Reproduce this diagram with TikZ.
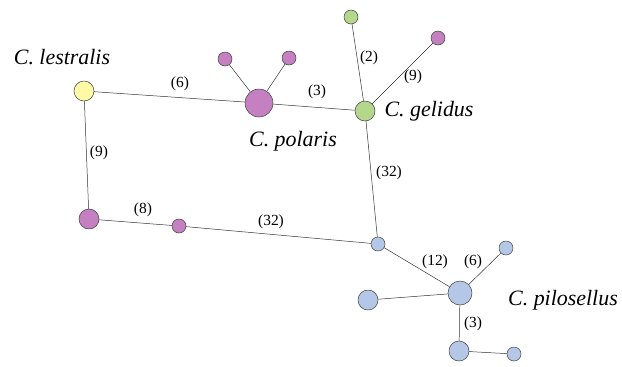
\documentclass[tikz,border=0pt]{standalone}
\usepackage{fontspec}
\setmainfont{Liberation Serif}
\begin{document}
\begin{tikzpicture}[x=1bp,y=-1bp,
  nd/.style={circle,draw=black!75,line width=0.5pt,inner sep=0pt,minimum size=#1},
  yel/.style={fill=yellow!35!white},
  pur/.style={fill={rgb,255:red,196;green,128;blue,192}},
  grn/.style={fill={rgb,255:red,180;green,215;blue,140}},
  blu/.style={fill={rgb,255:red,180;green,199;blue,231}},
  ed/.style={draw=black!80,line width=0.5pt},
  el/.style={font=\fontsize{15.5}{18}\selectfont,inner sep=0pt},
  sp/.style={font=\fontsize{22}{26}\selectfont\itshape,inner sep=0pt}]
\useasboundingbox (0,0) rectangle (622,366);
% nodes
\node[nd=20bp,yel] (les) at (84,91) {};
\node[nd=28bp,pur] (pol) at (259,103) {};
\node[nd=14bp,pur] (pa) at (225,59) {};
\node[nd=14bp,pur] (pb) at (289,58) {};
\node[nd=20bp,grn] (gel) at (365,111) {};
\node[nd=14bp,grn] (ga) at (351,17) {};
\node[nd=14bp,pur] (gb) at (438,38) {};
\node[nd=20bp,pur] (p1) at (89,219) {};
\node[nd=14bp,pur] (p2) at (179,226) {};
\node[nd=14bp,blu] (b1) at (378,244) {};
\node[nd=24bp,blu] (pil) at (460,293) {};
\node[nd=20bp,blu] (bl) at (368,300) {};
\node[nd=14bp,blu] (btr) at (506,248) {};
\node[nd=20bp,blu] (bb) at (459,351) {};
\node[nd=14bp,blu] (bbr) at (514,354) {};
% edges
\draw[ed] (les) -- (pol);
\draw[ed] (pol) -- (pa);
\draw[ed] (pol) -- (pb);
\draw[ed] (pol) -- (gel);
\draw[ed] (gel) -- (ga);
\draw[ed] (gel) -- (gb);
\draw[ed] (gel) -- (b1);
\draw[ed] (les) -- (p1);
\draw[ed] (p1) -- (p2);
\draw[ed] (p2) -- (b1);
\draw[ed] (b1) -- (pil);
\draw[ed] (pil) -- (bl);
\draw[ed] (pil) -- (btr);
\draw[ed] (pil) -- (bb);
\draw[ed] (bb) -- (bbr);
% edge labels
\node[el] (l1) at (180,84) {(6)};
\node[el] (l2) at (317,92) {(3)};
\node[el] (l3) at (369,58) {(2)};
\node[el] (l4) at (413,77) {(9)};
\node[el] (l5) at (99,153) {(9)};
\node[el] (l6) at (389,173) {(32)};
\node[el] (l7) at (143,210) {(8)};
\node[el] (l8) at (271,222) {(32)};
\node[el] (l9) at (435,262) {(12)};
\node[el] (l10) at (473,262) {(6)};
\node[el] (l11) at (473,324) {(3)};
% species labels
\node[sp] (sl) at (62,57) {C. lestralis};
\node[sp] (sp) at (293,141) {C. polaris};
\node[sp] (sg) at (429,111) {C. gelidus};
\node[sp] (spi) at (563,300) {C. pilosellus};
\end{tikzpicture}
\end{document}
